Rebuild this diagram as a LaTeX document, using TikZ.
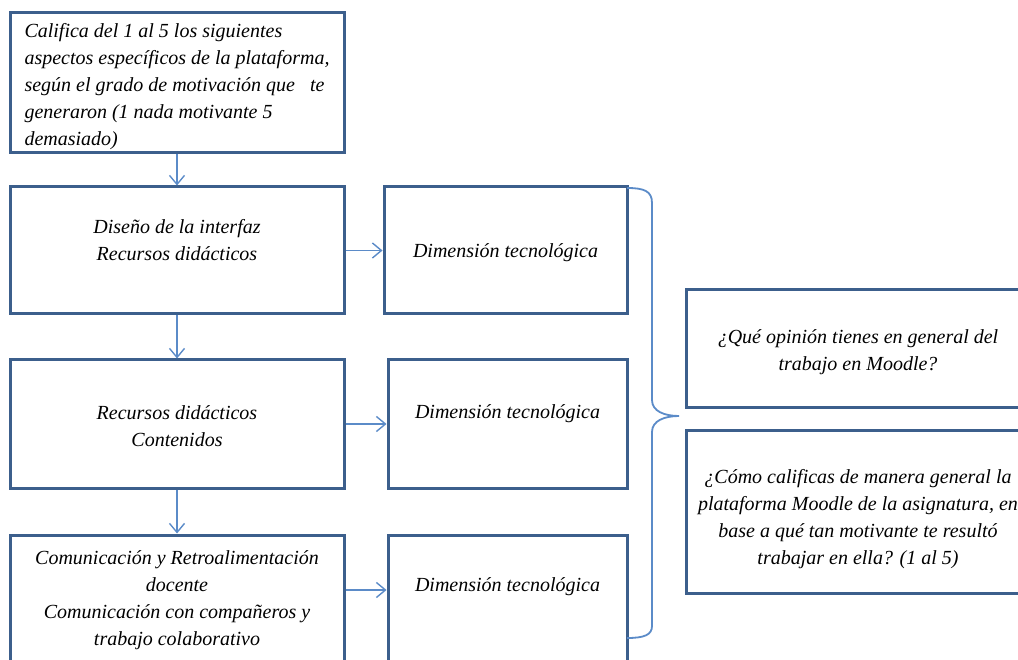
\documentclass[tikz,border=0pt]{standalone}
\usepackage{fontspec}
\setmainfont{Liberation Serif}
\usetikzlibrary{arrows.meta}
\definecolor{boxblue}{HTML}{3C5F8C}
\definecolor{linkblue}{HTML}{5B8BC8}
\begin{document}
\begin{tikzpicture}[x=1pt,y=-1pt,
  box/.style={draw=boxblue, line width=3pt, rectangle, inner sep=0pt},
  txt/.style={inner sep=0pt, align=center, font=\fontsize{20}{27}\selectfont\itshape},
  link/.style={draw=linkblue, line width=1.4pt, -{Straight Barb[length=9pt,width=15pt]}}]
\useasboundingbox (0,0) rectangle (1018,660);
\clip (0,0) rectangle (1018,660);
\node[box, minimum width=334pt, minimum height=140pt] (ask) at (177,83){};
\node[txt, align=left] (askT) at (177,87){Califica del 1 al 5 los siguientes\\ aspectos específicos de la plataforma,\\ según el grado de motivación que~~~te\\ generaron (1 nada motivante 5\\ demasiado)};
\node[box, minimum width=334pt, minimum height=127pt] (interfaz) at (177,250.5){};
\node[txt] (interfazT) at (177,240.5){Diseño de la interfaz\\ Recursos didácticos};
\node[box, minimum width=243pt, minimum height=127pt] (dimA) at (505.5,250.5){};
\node[txt] (dimAT) at (505.5,253){Dimensión tecnológica};
\draw[link](ask) -- (interfaz);
\draw[link](interfaz) -- (dimA);
\node[box, minimum width=334pt, minimum height=128pt] (recursos) at (177,424){};
\node[txt] (recursosT) at (177,426){Recursos didácticos\\ Contenidos};
\node[box, minimum width=239pt, minimum height=128pt] (dimB) at (507.5,424){};
\node[txt] (dimBT) at (507.5,414){Dimensión tecnológica};
\draw[link](interfaz) -- (recursos);
\draw[link](recursos) -- (dimB);
\node[box, minimum width=334pt, minimum height=132pt] (comunica) at (177,601){};
\node[txt] (comunicaT) at (177,600.5){Comunicación y Retroalimentación\\ docente\\ Comunicación con compañeros y\\ trabajo colaborativo};
\node[box, minimum width=239pt, minimum height=132pt] (dimC) at (507.5,601){};
\node[txt] (dimCT) at (507.5,587){Dimensión tecnológica};
\draw[link](recursos) -- (comunica);
\draw[link]([yshift=11pt]comunica.east) -- ([yshift=11pt]comunica.east -| dimC.west);
\node[box, minimum width=344pt, minimum height=118pt] (opinion) at (858,349){};
\node[txt] (opinionT) at (858,352){¿Qué opinión tienes en general del\\ trabajo en Moodle?};
\node[box, minimum width=344pt, minimum height=163pt] (califica) at (858,511.5){};
\node[txt] (calificaT) at (858,519){¿Cómo calificas de manera general la\\ plataforma Moodle de la asignatura, en\\ base a qué tan motivante te resultó\\ trabajar en ella? (1 al 5)};
% llave que agrupa las tres dimensiones
\coordinate (btop) at (627,188);
\coordinate (btip) at (679,416);
\coordinate (bbot) at (627,638);
\draw[linkblue, line width=1.8pt](btop) .. controls (644,188) and (652,191) .. (652,203) -- (652,400)
  .. controls (652,411) and (664,416) .. (btip) .. controls (664,416) and (652,421) .. (652,432)
  -- (652,626) .. controls (652,635) and (644,638) .. (bbot);
\end{tikzpicture}
\end{document}
